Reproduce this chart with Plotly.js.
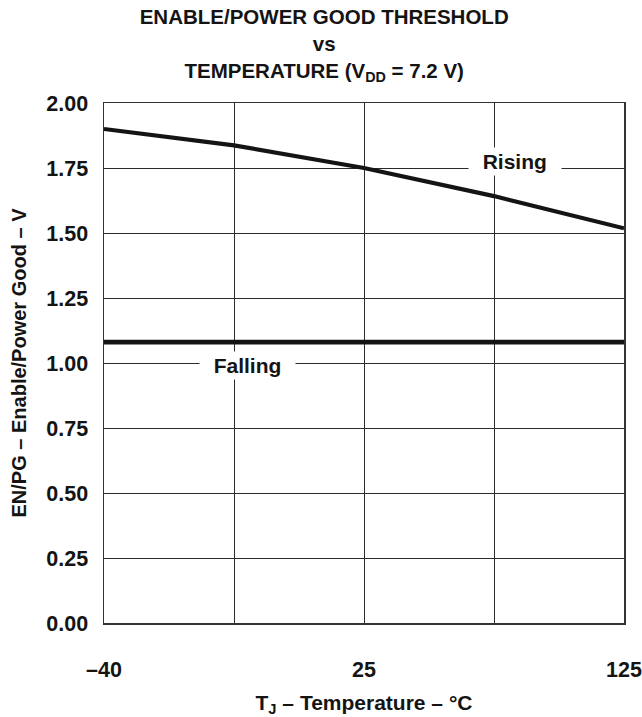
<!DOCTYPE html>
<html>
<head>
<meta charset="utf-8">
<script src="https://cdn.plot.ly/plotly-3.0.1.min.js"></script>
<style>html,body{margin:0;padding:0;background:#fff;}#chart{width:642px;height:717px;}</style>
</head>
<body>
<div id="chart"></div>
<script>
// Temperature grid positions (°C) — x-axis is drawn with equally spaced grid divisions
var temps = ['-40', '-7.5', '25', '75', '125'];
var tickLabels = ['\u201340', '', '25', '', '125'];
// Threshold voltages (V)
var rising = [1.90, 1.837, 1.75, 1.642, 1.518];
var falling = [1.08, 1.08, 1.08, 1.08, 1.08];

var FONT = 'Liberation Sans, Arial, Helvetica, sans-serif';
var INK = '#141414';
var GRID = '#2a2a2a';

var traces = [
  {x: temps, y: rising, type: 'scatter', mode: 'lines', name: 'Rising',
   line: {color: INK, width: 4.2}, cliponaxis: false, showlegend: false},
  {x: temps, y: falling, type: 'scatter', mode: 'lines', name: 'Falling',
   line: {color: INK, width: 4.8}, cliponaxis: false, showlegend: false}
];

var layout = {
  width: 642, height: 717,
  paper_bgcolor: '#fff', plot_bgcolor: '#fff',
  margin: {l: 104, r: 18, t: 103, b: 94},
  font: {family: FONT, size: 20, color: INK, weight: 700},
  showlegend: false,
  title: {
    text: 'ENABLE/POWER GOOD THRESHOLD<br>vs<br>TEMPERATURE (V<sub>DD</sub> = 7.2 V)',
    font: {family: FONT, size: 20.5, color: INK, weight: 700},
    x: 0.505, xanchor: 'center', xref: 'container',
    y: 0.966, yanchor: 'top', yref: 'container'
  },
  xaxis: {
    type: 'category', categoryorder: 'array', categoryarray: temps, range: [0, 4],
    tickmode: 'array', tickvals: temps, ticktext: tickLabels,
    showgrid: true, gridcolor: GRID, gridwidth: 1,
    showline: true, mirror: true, linecolor: '#333', linewidth: 1.5,
    ticks: '', ticklabelstandoff: 27,
    tickfont: {family: FONT, size: 21.5, color: INK, weight: 700},
    title: {text: 'T<sub>J</sub> \u2013 Temperature \u2013 \u00B0C', standoff: 16,
            font: {family: FONT, size: 21, color: INK, weight: 700}},
    zeroline: false, fixedrange: true
  },
  yaxis: {
    range: [0, 2], tick0: 0, dtick: 0.25, tickformat: '.2f',
    showgrid: true, gridcolor: GRID, gridwidth: 1,
    showline: true, mirror: true, linecolor: '#333', linewidth: 1.5,
    ticks: '', ticklabelstandoff: 10,
    tickfont: {family: FONT, size: 21.5, color: INK, weight: 700},
    title: {text: 'EN/PG \u2013 Enable/Power Good \u2013 V', standoff: 14,
            font: {family: FONT, size: 20, color: INK, weight: 700}},
    zeroline: false, fixedrange: true
  },
  annotations: [
    {x: 3.16, y: 1.775, xref: 'x', yref: 'y', text: '\u00a0\u00a0Rising\u00a0\u00a0',
     showarrow: false, bgcolor: '#fff', borderpad: 2,
     font: {family: FONT, size: 21, color: INK, weight: 700}},
    {x: 1.10, y: 0.99, xref: 'x', yref: 'y', text: '\u00a0\u00a0Falling\u00a0\u00a0',
     showarrow: false, bgcolor: '#fff', borderpad: 2,
     font: {family: FONT, size: 21, color: INK, weight: 700}}
  ]
};

Plotly.newPlot('chart', traces, layout, {staticPlot: true, displayModeBar: false});
</script>
</body>
</html>
